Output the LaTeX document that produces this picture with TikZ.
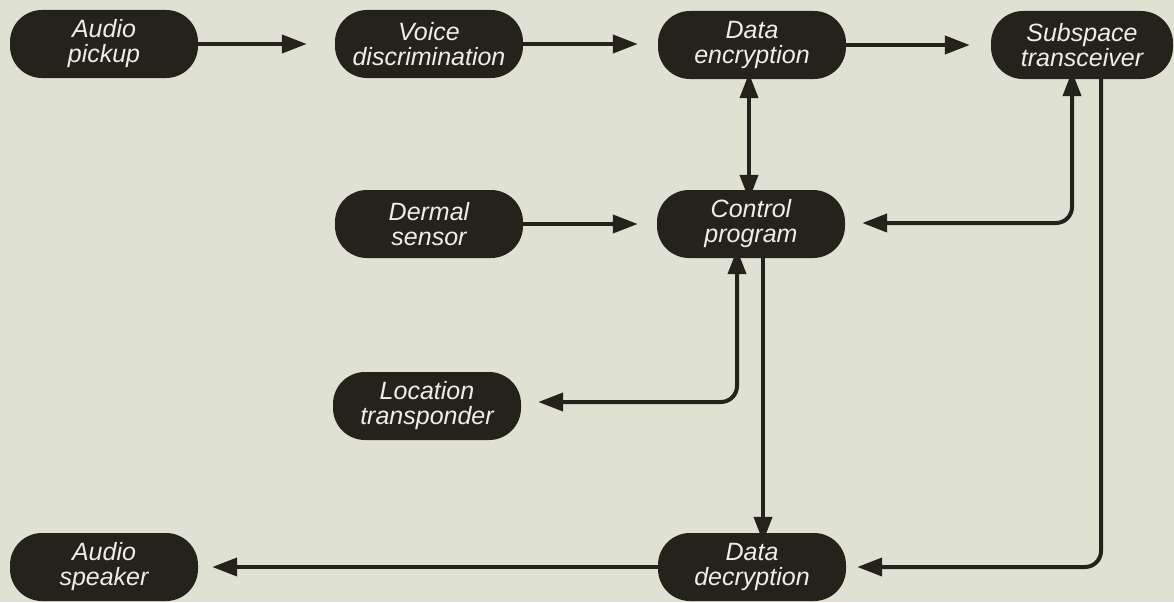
\documentclass[tikz,border=0pt]{standalone}
\usepackage{fontspec}
\setmainfont{Liberation Sans}
\usetikzlibrary{arrows.meta}
\definecolor{paper}{HTML}{DFE2D3}
\definecolor{ink}{HTML}{25221B}
\definecolor{label}{HTML}{EEEEE6}
\begin{document}
\begin{tikzpicture}[x=1pt,y=-1pt,
  stage/.style={draw=none, fill=ink, text=label, rounded corners=32pt,
    minimum width=188pt, minimum height=68pt, inner sep=0pt,
    align=center, font=\fontsize{25}{25}\selectfont\itshape},
  link/.style={draw=ink, line width=4pt,
    -{Triangle[length=25pt,width=18pt]}},
  both/.style={link, {Triangle[length=25pt,width=18pt]}-{Triangle[length=25pt,width=18pt]}},
  elbow/.style={rounded corners=16pt}]
% paper
\fill[paper] (0,0) rectangle (1174,602);
\useasboundingbox (0,0) rectangle (1174,602);

% stages
\node[stage] (pickup)   at (104,44)  {Audio\\pickup};
\node[stage] (voice)    at (429,44)  {Voice\\discrimination};
\node[stage] (enc)      at (752,45)  {Data\\encryption};
\node[stage, minimum width=182pt] (sub) at (1082,45) {Subspace\\transceiver};
\node[stage] (dermal)   at (429,224) {Dermal\\sensor};
\node[stage] (control)  at (751,224) {Control\\program};
\node[stage] (location) at (427,406) {Location\\transponder};
\node[stage] (speaker)  at (104,567) {Audio\\speaker};
\node[stage] (dec)      at (752,567) {Data\\decryption};

% top row flow
\draw[link] (pickup.east) -- ([xshift=-28pt]voice.west);
\draw[link] (voice.east) -- ([xshift=-20pt]voice.east -| enc.west);
\draw[link] (enc.east) -- ([xshift=-21pt]sub.west);

% encryption <-> control
\draw[both] ([xshift=-3pt,yshift=6pt]enc.south) -- ([xshift=-2pt,yshift=-10pt]control.north);

% dermal sensor -> control
\draw[link] (dermal.east) -- ([xshift=-19pt]control.west);

% control <-> transceiver
\coordinate (cs) at ([xshift=-10pt]sub.south);
\draw[both, elbow] ([xshift=17pt,yshift=1pt]control.east) -| ([yshift=8pt]cs);

% transceiver -> decryption
\coordinate (sd) at ([xshift=19pt]sub.south);
\draw[link, elbow] (sd) |- ([xshift=11pt]dec.east);

% control -> decryption
\draw[link] ([xshift=12pt]control.south) -- ([xshift=11pt,yshift=-9pt]dec.north);

% control <-> location transponder
\draw[both, elbow] ([xshift=-14pt,yshift=9pt]control.south) |- ([xshift=17pt,yshift=4pt]location.east);

% decryption -> speaker
\draw[link] (dec.west) -- ([xshift=14pt]speaker.east);
\end{tikzpicture}
\end{document}
